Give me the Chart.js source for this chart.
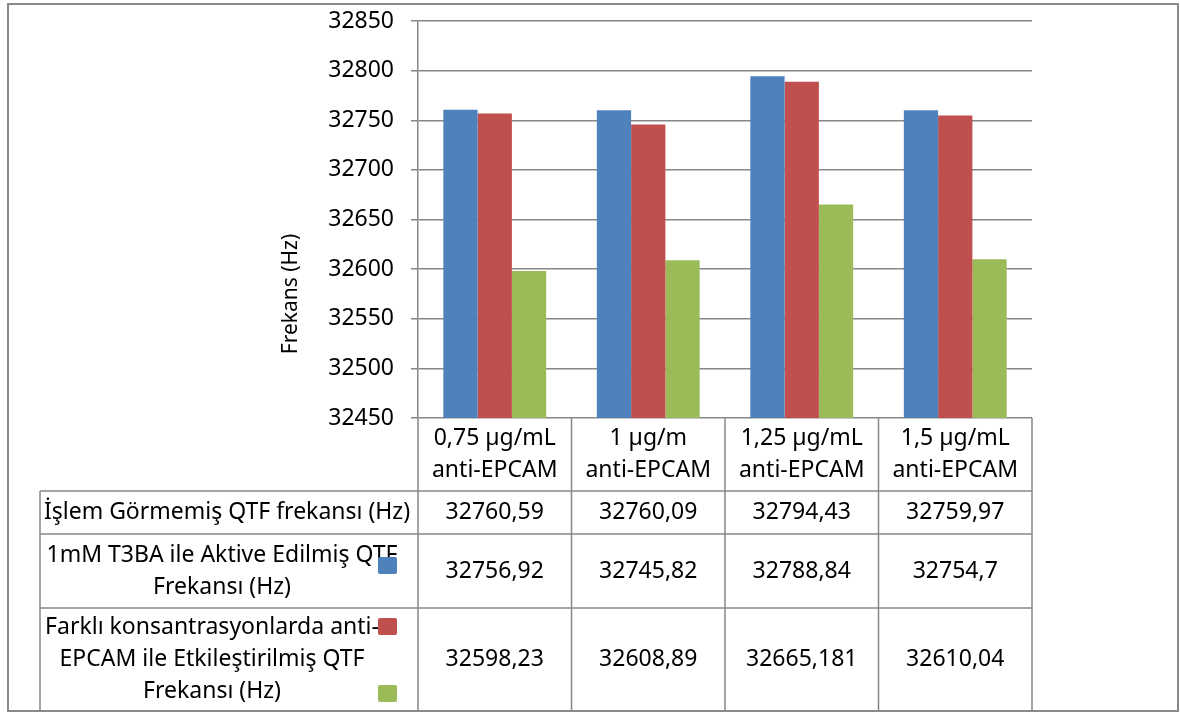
<!DOCTYPE html>
<html>
<head>
<meta charset="utf-8">
<script src="https://cdn.jsdelivr.net/npm/chart.js@4.4.1/dist/chart.umd.min.js"></script>
<style>
  html, body { margin: 0; padding: 0; background: #ffffff; }
  #wrap { width: 1180px; height: 714px; }
</style>
</head>
<body>
<div id="wrap"><canvas id="c" width="1180" height="714"></canvas></div>
<script>
// Concentration groups (two-line column headers of the data table)
const categories = [
  ['0,75 µg/mL', 'anti-EPCAM'],
  ['1 µg/m', 'anti-EPCAM'],
  ['1,25 µg/mL', 'anti-EPCAM'],
  ['1,5 µg/mL', 'anti-EPCAM']
];

// Series names as wrapped in the table's first column
const seriesNames = [
  ['İşlem Görmemiş QTF frekansı (Hz)'],
  ['1mM T3BA ile Aktive Edilmiş QTF', 'Frekansı (Hz)'],
  ['Farklı konsantrasyonlarda anti-', 'EPCAM ile Etkileştirilmiş QTF', 'Frekansı (Hz)']
];

// Frequencies (Hz)
const untreated = [32760.59, 32760.09, 32794.43, 32759.97];
const activated = [32756.92, 32745.82, 32788.84, 32754.7];
const antibody  = [32598.23, 32608.89, 32665.181, 32610.04];

const yTicks = [32450, 32500, 32550, 32600, 32650, 32700, 32750, 32800, 32850];
const yTitle = 'Frekans (Hz)';

const colors = ['#4F81BD', '#C0504D', '#9BBB59'];
const lineColor = '#878787';
const FONT = '"Noto Sans", "DejaVu Sans", sans-serif';

const seriesData = [untreated, activated, antibody];
const fmt = v => String(v).replace('.', ',');

// Data table, legend keys, axis title and frame
const tablePlugin = {
  id: 'dataTable',
  afterDraw(chart) {
    const ctx = chart.ctx;
    const area = chart.chartArea;
    const n = categories.length;
    const colW = (area.right - area.left) / n;
    const top = area.bottom;
    const rows = [top, 491, 534, 608, 711];
    const labelLeft = 40;
    const labelCenter = [227, 222, 212];

    ctx.save();
    ctx.strokeStyle = lineColor;
    ctx.lineWidth = 1.5;

    // horizontal rules of the table
    for (let r = 1; r < rows.length - 1; r++) {
      ctx.beginPath();
      ctx.moveTo(labelLeft, rows[r]);
      ctx.lineTo(area.right, rows[r]);
      ctx.stroke();
    }
    // column rules
    for (let i = 0; i <= n; i++) {
      const x = area.left + i * colW;
      ctx.beginPath();
      ctx.moveTo(x, top);
      ctx.lineTo(x, rows[rows.length - 1]);
      ctx.stroke();
    }
    // left edge of the label column
    ctx.beginPath();
    ctx.moveTo(labelLeft, rows[1]);
    ctx.lineTo(labelLeft, rows[rows.length - 1]);
    ctx.stroke();

    // text
    ctx.fillStyle = '#000000';
    ctx.font = '23px ' + FONT;
    ctx.textAlign = 'center';
    ctx.textBaseline = 'middle';
    const lh = 32;

    categories.forEach((lines, i) => {
      const cx = area.left + (i + 0.5) * colW;
      const cy = (rows[0] + rows[1]) / 2;
      lines.forEach((t, k) => {
        ctx.fillText(t, cx, cy + (k - (lines.length - 1) / 2) * lh);
      });
    });

    seriesData.forEach((vals, s) => {
      const cy = (rows[s + 1] + rows[s + 2]) / 2;
      vals.forEach((v, i) => {
        const cx = area.left + (i + 0.5) * colW;
        ctx.fillText(fmt(v), cx, cy);
      });
      const lines = seriesNames[s];
      lines.forEach((t, k) => {
        ctx.fillText(t, labelCenter[s], cy + (k - (lines.length - 1) / 2) * lh);
      });
    });

    // legend keys
    const keyY = [557, 618, 685];
    colors.forEach((c, s) => {
      ctx.fillStyle = c;
      ctx.beginPath();
      if (ctx.roundRect) ctx.roundRect(378, keyY[s], 19, 17, 2); else ctx.rect(378, keyY[s], 19, 17);
      ctx.fill();
    });

    // rotated axis title
    ctx.fillStyle = '#000000';
    ctx.font = '21px ' + FONT;
    ctx.translate(291, 294);
    ctx.rotate(-Math.PI / 2);
    ctx.fillText(yTitle, 0, 0);
    ctx.restore();

    // outer frame
    ctx.save();
    ctx.strokeStyle = '#8a8a8a';
    ctx.lineWidth = 2;
    ctx.strokeRect(8, 4, 1170, 707);
    ctx.restore();
  }
};

new Chart(document.getElementById('c'), {
  type: 'bar',
  data: {
    labels: categories,
    datasets: seriesData.map((d, s) => ({
      label: seriesNames[s].join(' '),
      data: d,
      backgroundColor: colors[s],
      borderWidth: 0,
      categoryPercentage: 0.67,
      barPercentage: 1.0
    }))
  },
  options: {
    responsive: false,
    animation: false,
    events: [],
    layout: { padding: { left: 0, right: 148, top: 21, bottom: 296 } },
    plugins: {
      legend: { display: false },
      tooltip: { enabled: false },
      title: { display: false }
    },
    scales: {
      x: { display: false },
      y: {
        min: yTicks[0],
        max: yTicks[yTicks.length - 1],
        afterBuildTicks: scale => { scale.ticks = yTicks.map(v => ({ value: v })); },
        afterFit: scale => {
          scale.width = 418;
          scale.paddingTop = 0;
          scale.paddingBottom = 0;
        },
        ticks: {
          color: '#000000',
          font: { family: FONT, size: 23 },
          padding: 17,
          callback: v => String(v)
        },
        grid: { color: lineColor, lineWidth: 1.5, tickLength: 7, drawTicks: true },
        border: { display: true, color: lineColor, width: 1.5 }
      }
    }
  },
  plugins: [tablePlugin]
});
</script>
</body>
</html>
